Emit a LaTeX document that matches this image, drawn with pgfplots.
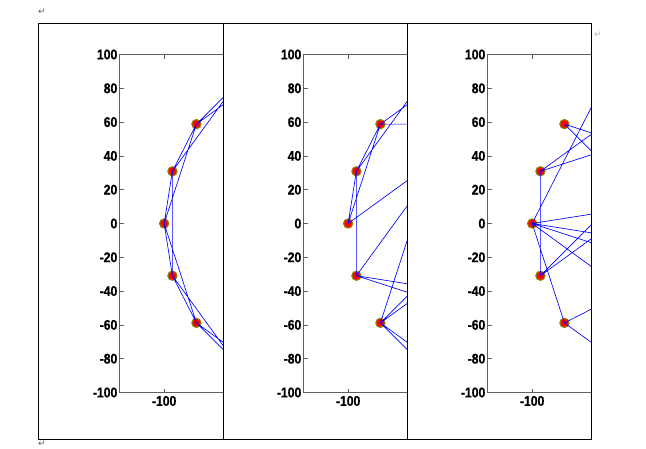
\documentclass[border=0pt]{standalone}
\usepackage{fontspec}
\setmainfont{Liberation Sans}
\newfontfamily\tickfont[FakeStretch=0.87, FakeBold=0.6]{Liberation Sans}
\newfontfamily\symfont{DejaVu Sans}
\usepackage{pgfplots}
\usepackage{pgfplotstable}
\pgfplotsset{compat=1.18}

% node positions: 20 nodes on a circle of radius 100, every 18 degrees
\pgfplotstableread{
x y
100 0
95.1 30.9
80.9 58.8
58.8 80.9
30.9 95.1
0 100
-30.9 95.1
-58.8 80.9
-80.9 58.8
-95.1 30.9
-100 0
-95.1 -30.9
-80.9 -58.8
-58.8 -80.9
-30.9 -95.1
0 -100
30.9 -95.1
58.8 -80.9
80.9 -58.8
95.1 -30.9
}\nodes

% edges, one pair of end points per edge, nan between edges
% regular ring, each node linked to two neighbours on each side
\pgfplotstableread{
x y
-80.9 58.8
-30.9 95.1
nan nan
-80.9 58.8
-58.8 80.9
nan nan
-95.1 30.9
-58.8 80.9
nan nan
-95.1 30.9
-80.9 58.8
nan nan
-100 0
-80.9 58.8
nan nan
-100 0
-95.1 30.9
nan nan
-95.1 -30.9
-95.1 30.9
nan nan
-95.1 -30.9
-100 0
nan nan
-80.9 -58.8
-100 0
nan nan
-80.9 -58.8
-95.1 -30.9
nan nan
-58.8 -80.9
-95.1 -30.9
nan nan
-58.8 -80.9
-80.9 -58.8
nan nan
-30.9 -95.1
-80.9 -58.8
}\edgesA

% a few links rewired
\pgfplotstableread{
x y
-80.9 58.8
-30.9 95.1
nan nan
-80.9 58.8
80.9 58.8
nan nan
-95.1 30.9
-58.8 80.9
nan nan
-95.1 30.9
-80.9 58.8
nan nan
-100 0
-80.9 58.8
nan nan
-100 0
-95.1 30.9
nan nan
-95.1 -30.9
-95.1 30.9
nan nan
-100 0
30.9 95.1
nan nan
-95.1 -30.9
0 100
nan nan
-95.1 -30.9
80.9 -58.8
nan nan
-95.1 -30.9
58.8 -80.9
nan nan
-80.9 -58.8
-30.9 95.1
nan nan
-80.9 -58.8
58.8 80.9
nan nan
-80.9 -58.8
80.9 58.8
nan nan
-80.9 -58.8
-58.8 -80.9
nan nan
-80.9 -58.8
-30.9 -95.1
}\edgesB

% most links rewired
\pgfplotstableread{
x y
-80.9 58.8
100 0
nan nan
-80.9 58.8
58.8 -80.9
nan nan
-95.1 30.9
-95.1 -30.9
nan nan
-95.1 30.9
0 100
nan nan
-95.1 30.9
58.8 80.9
nan nan
-100 0
-58.8 80.9
nan nan
-100 0
95.1 30.9
nan nan
-100 0
95.1 -30.9
nan nan
-100 0
80.9 -58.8
nan nan
-100 0
30.9 -95.1
nan nan
-100 0
-80.9 -58.8
nan nan
-95.1 -30.9
30.9 95.1
nan nan
-95.1 -30.9
58.8 80.9
nan nan
-80.9 -58.8
95.1 30.9
nan nan
-80.9 -58.8
-30.9 -95.1
}\edgesC

\pgfplotsset{
  panel/.style={
    scale only axis,
    width=103.8pt, height=338pt,
    anchor=south west,
    xmin=-126.4, xmax=-65,
    ymin=-100, ymax=100,
    xtick={-100},
    ytick={-100,-80,...,100},
    ytick pos=left,
    tick align=inside,
    major tick length=4pt,
    axis line style={gray!75!black, line width=0.9pt},
    tick style={gray!75!black, line width=0.8pt},
    ticklabel style={font=\tickfont\bfseries\fontsize{14}{14}\selectfont},
    yticklabel style={inner sep=2pt},
    /pgf/number format/assume math mode=true,
    clip marker paths=true,
    unbounded coords=jump,
  },
  netnode/.style={only marks, mark=*, mark size=4.6pt,
    mark options={fill=red, draw={rgb,255:red,150;green,125;blue,0}, line width=1.1pt}},
  netedge/.style={no marks, blue, line width=0.65pt},
}

\begin{document}
\begin{tikzpicture}[x=1pt, y=1pt]
\useasboundingbox (0,0) rectangle (646,448);

\begin{axis}[panel, at={(119.5pt,55.5pt)}]
\addplot[netnode] table {\nodes};
\addplot[netedge] table {\edgesA};
\end{axis}

\begin{axis}[panel, at={(303.5pt,55.5pt)}]
\addplot[netnode] table {\nodes};
\addplot[netedge] table {\edgesB};
\end{axis}

\begin{axis}[panel, at={(487.5pt,55.5pt)}]
\addplot[netnode] table {\nodes};
\addplot[netedge] table {\edgesC};
\end{axis}

% table frame around the three figures
\draw[line width=0.9pt] (38,9) rectangle (591.5,424.7);
\draw[line width=0.9pt] (223,9) -- (223,424.7);
\draw[line width=0.9pt] (407.5,9) -- (407.5,424.7);

% paragraph marks
\node[gray!80!black, font=\symfont\fontsize{9}{9}\selectfont] at (42,436) {↵};
\node[gray!60, font=\symfont\fontsize{9}{9}\selectfont] at (598,413) {↵};
\node[gray!80!black, font=\symfont\fontsize{9}{9}\selectfont] at (42,4) {↵};
\end{tikzpicture}
\end{document}
